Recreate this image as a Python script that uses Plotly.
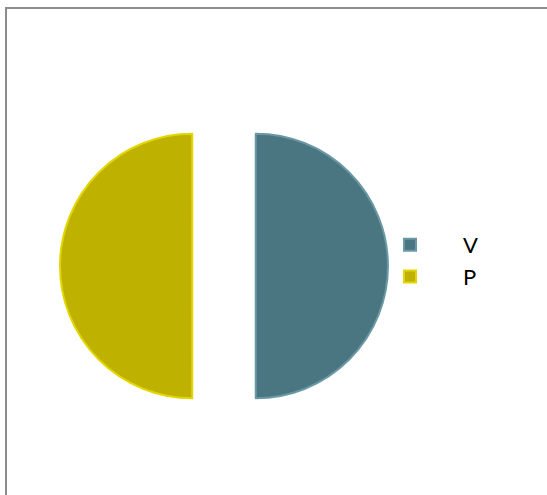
import plotly.graph_objects as go

labels = ["V", "P"]
values = [50, 50]
colors = ["#4a7682", "#bfb100"]
line_colors = ["#6a98a4", "#e3d600"]

W, H = 547, 495

fig = go.Figure()
fig.add_trace(go.Pie(
    labels=labels,
    values=values,
    sort=False,
    direction="clockwise",
    rotation=0,
    pull=[0.24, 0.24],
    textinfo="none",
    marker=dict(colors=colors, line=dict(color=line_colors, width=2)),
    domain=dict(x=[60 / W, 388 / W], y=[65 / H, 393 / H]),
))

fig.update_layout(
    width=W, height=H,
    margin=dict(l=0, r=0, t=0, b=0),
    paper_bgcolor="white",
    plot_bgcolor="white",
    font=dict(family="Lato, Liberation Sans, sans-serif", color="black"),
    showlegend=True,
    legend=dict(
        x=357 / W, y=1 - 224 / H, xanchor="left", yanchor="top",
        font=dict(size=22, color="black"),
        itemwidth=96,
        bgcolor="rgba(0,0,0,0)",
        tracegroupgap=0,
    ),
    shapes=[dict(
        type="rect", xref="paper", yref="paper",
        x0=6 / W, x1=1.05, y0=-0.05, y1=1 - 8 / H,
        line=dict(color="#8c8c8c", width=2),
        layer="above",
    )],
)

fig.write_html(
    "out.html",
    config={"displayModeBar": False},
    post_script="document.body.style.margin='0';",
)
